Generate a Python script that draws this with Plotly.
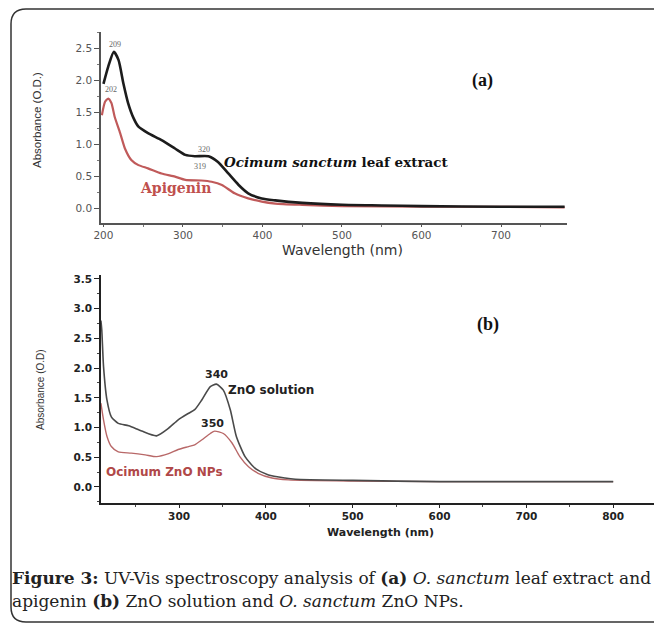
import plotly.graph_objects as go

W, H = 654, 625

# ---------------- data: panel (a) ----------------
wl_a_extract = [200, 206, 213, 219, 225, 231, 238, 244, 256, 273, 290, 303, 315, 332, 344, 357,
                370, 382, 399, 416, 450, 500, 550, 600, 700, 780]
abs_a_extract = [1.94, 2.21, 2.44, 2.31, 1.95, 1.64, 1.40, 1.27, 1.17, 1.06, 0.93, 0.83, 0.81, 0.81,
                 0.72, 0.54, 0.36, 0.23, 0.15, 0.12, 0.08, 0.05, 0.04, 0.03, 0.02, 0.02]
wl_a_apigenin = [198, 202, 206, 210, 214, 221, 227, 235, 244, 256, 273, 290, 303, 323, 336, 349,
                 365, 382, 399, 416, 450, 500, 600, 700, 780]
abs_a_apigenin = [1.45, 1.66, 1.71, 1.64, 1.43, 1.17, 0.93, 0.75, 0.67, 0.62, 0.54, 0.49, 0.44, 0.43,
                  0.41, 0.36, 0.23, 0.15, 0.10, 0.07, 0.05, 0.03, 0.02, 0.02, 0.01]

# ---------------- data: panel (b) ----------------
wl_b_zno = [210, 211, 213, 217, 222, 230, 242, 257, 274, 288, 299, 311, 318, 326, 336, 343, 351,
            359, 366, 376, 388, 403, 422, 434, 500, 600, 700, 800]
abs_b_zno = [2.80, 2.64, 2.03, 1.46, 1.18, 1.07, 1.03, 0.94, 0.86, 0.99, 1.13, 1.24, 1.30, 1.46,
             1.69, 1.73, 1.63, 1.30, 0.85, 0.51, 0.31, 0.20, 0.15, 0.13, 0.11, 0.09, 0.09, 0.09]
wl_b_np = [210, 213, 217, 222, 230, 245, 261, 274, 288, 299, 311, 318, 326, 336, 341, 351, 361,
           370, 380, 391, 407, 426, 500, 600, 700, 800]
abs_b_np = [1.41, 1.13, 0.85, 0.68, 0.59, 0.57, 0.54, 0.51, 0.56, 0.63, 0.68, 0.71, 0.79, 0.90,
            0.94, 0.90, 0.74, 0.51, 0.34, 0.23, 0.15, 0.12, 0.10, 0.09, 0.09, 0.09]

x_ticks_a = [200, 300, 400, 500, 600, 700]
y_ticks_a = ["0.0", "0.5", "1.0", "1.5", "2.0", "2.5"]
x_ticks_b = [300, 400, 500, 600, 700, 800]
y_ticks_b = ["0.0", "0.5", "1.0", "1.5", "2.0", "2.5", "3.0", "3.5"]

# peak labels
peaks_a = [("209", 214, 2.56), ("202", 210, 1.85), ("320", 326, 0.92), ("319", 322, 0.65)]
peaks_b = [("340", 343, 1.89), ("350", 338, 1.06)]

caption_1 = "<b>Figure 3:</b> UV-Vis spectroscopy analysis of <b>(a)</b> <i>O. sanctum</i> leaf extract and"
caption_2 = "apigenin <b>(b)</b> ZnO solution and <i>O. sanctum</i> ZnO NPs."


def px(x):
    return x / W


def py(y):
    return 1 - y / H


fig = go.Figure()

fig.add_trace(go.Scatter(x=wl_a_apigenin, y=abs_a_apigenin, mode="lines",
                         line=dict(color="#c05a5a", width=2.2, shape="spline", smoothing=0.6),
                         xaxis="x", yaxis="y", showlegend=False))
fig.add_trace(go.Scatter(x=wl_a_extract, y=abs_a_extract, mode="lines",
                         line=dict(color="#1c1c1c", width=2.6, shape="spline", smoothing=0.6),
                         xaxis="x", yaxis="y", showlegend=False))
fig.add_trace(go.Scatter(x=wl_b_np, y=abs_b_np, mode="lines",
                         line=dict(color="#b86868", width=1.4, shape="spline", smoothing=0.6),
                         xaxis="x2", yaxis="y2", showlegend=False))
fig.add_trace(go.Scatter(x=wl_b_zno, y=abs_b_zno, mode="lines",
                         line=dict(color="#4a4a4a", width=1.6, shape="spline", smoothing=0.6),
                         xaxis="x2", yaxis="y2", showlegend=False))

tick_a = dict(family="DejaVu Sans", size=10.5, color="#555555")
tick_b = dict(family="DejaVu Sans", size=10.5, color="#222222", weight="bold")

common = dict(showgrid=False, zeroline=False, showline=True, ticks="outside",
              tickwidth=1.2, automargin=False)

fig.update_layout(
    template="none",
    width=W, height=H,
    margin=dict(l=0, r=0, t=0, b=0, autoexpand=False),
    paper_bgcolor="white", plot_bgcolor="white",
    xaxis=dict(domain=[px(101), px(567)], range=[196.9, 783], anchor="y",
               tickvals=x_ticks_a, tickfont=tick_a, ticklen=2,
               linecolor="#555555", linewidth=1.5, tickcolor="#555555",
               minor=dict(dtick=50, tick0=200, ticks="outside", ticklen=2, tickcolor="#777777"),
               **common),
    yaxis=dict(domain=[py(223), py(32)], range=[-0.234, 2.75], anchor="x",
               tickvals=[float(t) for t in y_ticks_a], ticktext=y_ticks_a, ticklen=5,
               tickfont=tick_a, linecolor="#555555", linewidth=1.5, tickcolor="#555555",
               minor=dict(dtick=0.25, tick0=0, ticks="outside", ticklen=2, tickcolor="#777777"),
               **common),
    xaxis2=dict(domain=[px(101), 1.0], range=[210.1, 847], anchor="y2",
                tickvals=x_ticks_b, tickfont=tick_b, ticklen=3,
                linecolor="#222222", linewidth=1.5, tickcolor="#222222",
                minor=dict(dtick=50, tick0=200, ticks="outside", ticklen=2, tickcolor="#444444"),
                **common),
    yaxis2=dict(domain=[py(503), py(275)], range=[-0.27, 3.567], anchor="x2",
                tickvals=[float(t) for t in y_ticks_b], ticktext=y_ticks_b, ticklen=5,
                tickfont=tick_b, linecolor="#222222", linewidth=1.5, tickcolor="#222222",
                minor=dict(dtick=0.25, tick0=0, ticks="outside", ticklen=2, tickcolor="#444444"),
                **common),
)

C = dict(showarrow=False, xanchor="center", yanchor="middle")
L = dict(showarrow=False, xanchor="left", yanchor="middle")

ann = []
for t, x, y in peaks_a:
    ann.append(dict(x=x, y=y, xref="x", yref="y", text=t,
                    font=dict(family="Liberation Serif", size=8, color="#666666"), **C))
for t, x, y in peaks_b:
    ann.append(dict(x=x, y=y, xref="x2", yref="y2", text=t,
                    font=dict(family="DejaVu Sans", size=11, color="#222222", weight="bold"), **C))

ann += [
    dict(x=677, y=2.0, xref="x", yref="y", text="<b>(a)</b>",
         font=dict(family="Liberation Serif", size=18, color="#111111"), **C),
    dict(x=349, y=0.72, xref="x", yref="y",
         text="<b><i>Ocimum sanctum</i> leaf extract</b>",
         font=dict(family="DejaVu Serif", size=13.5, color="#111111"), **L),
    dict(x=243, y=0.31, xref="x", yref="y", text="<b>Apigenin</b>",
         font=dict(family="DejaVu Serif", size=14, color="#c0504d"), **L),
    dict(x=656, y=2.73, xref="x2", yref="y2", text="<b>(b)</b>",
         font=dict(family="Liberation Serif", size=18, color="#111111"), **C),
    dict(x=354, y=1.63, xref="x2", yref="y2", text="ZnO solution",
         font=dict(family="DejaVu Sans", size=12, color="#222222", weight="bold"), **L),
    dict(x=213, y=0.25, xref="x2", yref="y2", text="Ocimum ZnO NPs",
         font=dict(family="DejaVu Sans", size=12, color="#b04848", weight="bold"), **L),
    # axis titles
    dict(x=px(342), y=py(250), xref="paper", yref="paper", text="Wavelength (nm)",
         font=dict(family="DejaVu Sans", size=14, color="#333333"), **C),
    dict(x=px(380), y=py(532), xref="paper", yref="paper", text="<b>Wavelength (nm)</b>",
         font=dict(family="DejaVu Sans", size=11, color="#222222"), **C),
    dict(x=px(37), y=py(120), xref="paper", yref="paper", text="Absorbance (O.D.)",
         textangle=-90, font=dict(family="Liberation Sans", size=11.5, color="#333333"), **C),
    dict(x=px(40), y=py(390), xref="paper", yref="paper", text="Absorbance (O.D)",
         textangle=-90, font=dict(family="Liberation Sans", size=10, color="#333333"), **C),
    # caption
    dict(x=px(10), y=py(578), xref="paper", yref="paper", text=caption_1,
         font=dict(family="DejaVu Serif", size=17, color="#222222"), **L),
    dict(x=px(10), y=py(601), xref="paper", yref="paper", text=caption_2,
         font=dict(family="DejaVu Serif", size=17, color="#222222"), **L),
]
fig.update_layout(annotations=ann)

# rounded frame
r = 15
x0, y0, y1 = 11, 9, 622
path = (f"M {px(W + 5)},{py(y0)} L {px(x0 + r)},{py(y0)} "
        f"Q {px(x0)},{py(y0)} {px(x0)},{py(y0 + r)} "
        f"L {px(x0)},{py(y1 - r)} Q {px(x0)},{py(y1)} {px(x0 + r)},{py(y1)} "
        f"L {px(W + 5)},{py(y1)}")
fig.add_shape(type="path", path=path, xref="paper", yref="paper",
              line=dict(color="#333333", width=1.5))

fig.write_html("out.html")
